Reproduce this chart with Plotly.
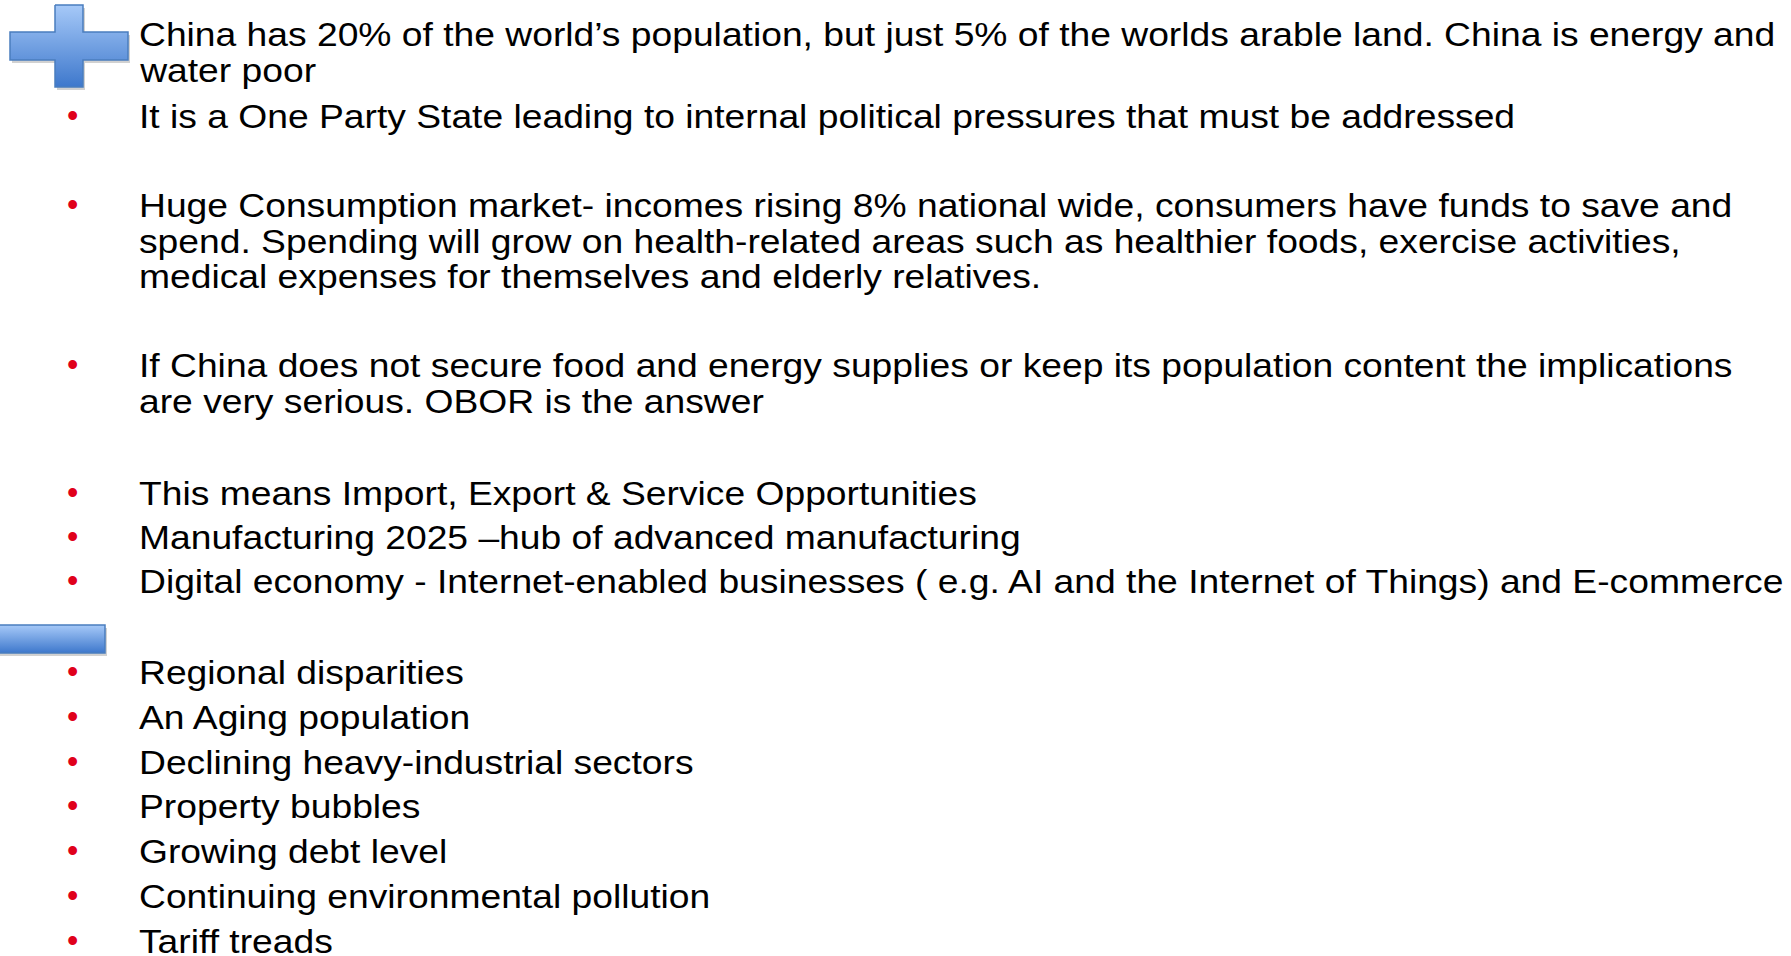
import plotly.graph_objects as go

# ---- content ----
intro_lines = [
    "China has 20% of the world\u2019s population, but just 5% of the worlds arable land. China is energy and",
    "water poor",
]
plus_bullets = [
    ["It is a One Party State leading to internal political pressures that must be addressed"],
    ["Huge Consumption market- incomes rising 8% national wide, consumers have funds to save and",
     "spend. Spending will grow on health-related areas such as healthier foods, exercise activities,",
     "medical expenses for themselves and elderly relatives."],
    ["If China does not secure food and energy supplies or keep its population content the implications",
     "are very serious. OBOR is the answer"],
    ["This means Import, Export & Service Opportunities"],
    ["Manufacturing 2025 \u2013hub of advanced manufacturing"],
    ["Digital economy - Internet-enabled businesses ( e.g. AI and the Internet of Things) and E-commerce"],
]
minus_bullets = [
    ["Regional disparities"],
    ["An Aging population"],
    ["Declining heavy-industrial sectors"],
    ["Property bubbles"],
    ["Growing debt level"],
    ["Continuing environmental pollution"],
    ["Tariff treads"],
]

# ---- layout constants (pixel space) ----
W, H = 1791, 956
FS = 32.3
LINE = 35.5
TEXT_X = 137
BULLET_X = 72
STRETCH = 1.153
FONT = "Arial, Liberation Sans, sans-serif"
intro_base = 47
plus_bases = [129, 218, 378, 506, 550, 594]
minus_bases = [685, 730, 775, 819, 864, 909, 954]

def mid(base):
    return base - 0.36 * FS

fig = go.Figure()

def poly(xs, ys, name):
    # shadow
    fig.add_trace(go.Scatter(x=[v + 2 for v in xs], y=[v + 3 for v in ys], fill="toself",
                             mode="lines", line=dict(width=0), fillcolor="rgba(0,0,0,0.18)",
                             hoverinfo="skip", showlegend=False))
    fig.add_trace(go.Scatter(x=xs, y=ys, fill="toself", mode="lines",
                             line=dict(color="#4A7DBE", width=1.5),
                             fillgradient=dict(type="vertical",
                                               colorscale=[[0, "#3E78CC"], [1, "#A6C9F8"]]),
                             hoverinfo="skip", showlegend=False, name=name))

# plus icon
px = [55, 83, 83, 128, 128, 83, 83, 55, 55, 10, 10, 55, 55]
py = [5, 5, 32, 32, 60, 60, 87, 87, 60, 60, 32, 32, 5]
poly(px, py, "plus")
# minus icon
poly([-2, 105, 105, -2, -2], [625, 625, 653, 653, 625], "minus")

ann = []
def txt(x, base, s, color="black"):
    ann.append(dict(x=x, y=mid(base), xref="x", yref="y", text=s, showarrow=False,
                    xanchor="left", yanchor="middle", align="left",
                    font=dict(family=FONT, size=FS, color=color)))

def bullet(base):
    ann.append(dict(x=BULLET_X, y=base - 13, xref="x", yref="y", text="\u2022", showarrow=False,
                    xanchor="center", yanchor="middle",
                    font=dict(family=FONT, size=FS, color="#E0001B")))

for i, s in enumerate(intro_lines):
    txt(TEXT_X, intro_base + i * LINE, s)

for lines, b in zip(plus_bullets, plus_bases):
    bullet(b)
    for i, s in enumerate(lines):
        txt(TEXT_X, b + i * LINE, s)

for lines, b in zip(minus_bullets, minus_bases):
    bullet(b)
    for i, s in enumerate(lines):
        txt(TEXT_X, b + i * LINE, s)

fig.update_layout(
    width=W, height=H, margin=dict(l=0, r=0, t=0, b=0),
    paper_bgcolor="white", plot_bgcolor="white",
    xaxis=dict(range=[0, W], visible=False, fixedrange=True),
    yaxis=dict(range=[H, 0], visible=False, fixedrange=True),
    annotations=ann, showlegend=False,
)

post = """
document.body.style.margin = '0';
document.body.style.overflow = 'hidden';
var gd = document.getElementById('{plot_id}');
var S = %s;
gd.querySelectorAll('text.annotation-text').forEach(function(t) {
  if (t.textContent === '\\u2022') return;
  var b = t.getBBox();
  t.setAttribute('transform', 'translate(' + (b.x * (1 - S)) + ',0) scale(' + S + ',1)');
});
""" % STRETCH

fig.write_html("out.html", config={"displayModeBar": False}, post_script=post)
